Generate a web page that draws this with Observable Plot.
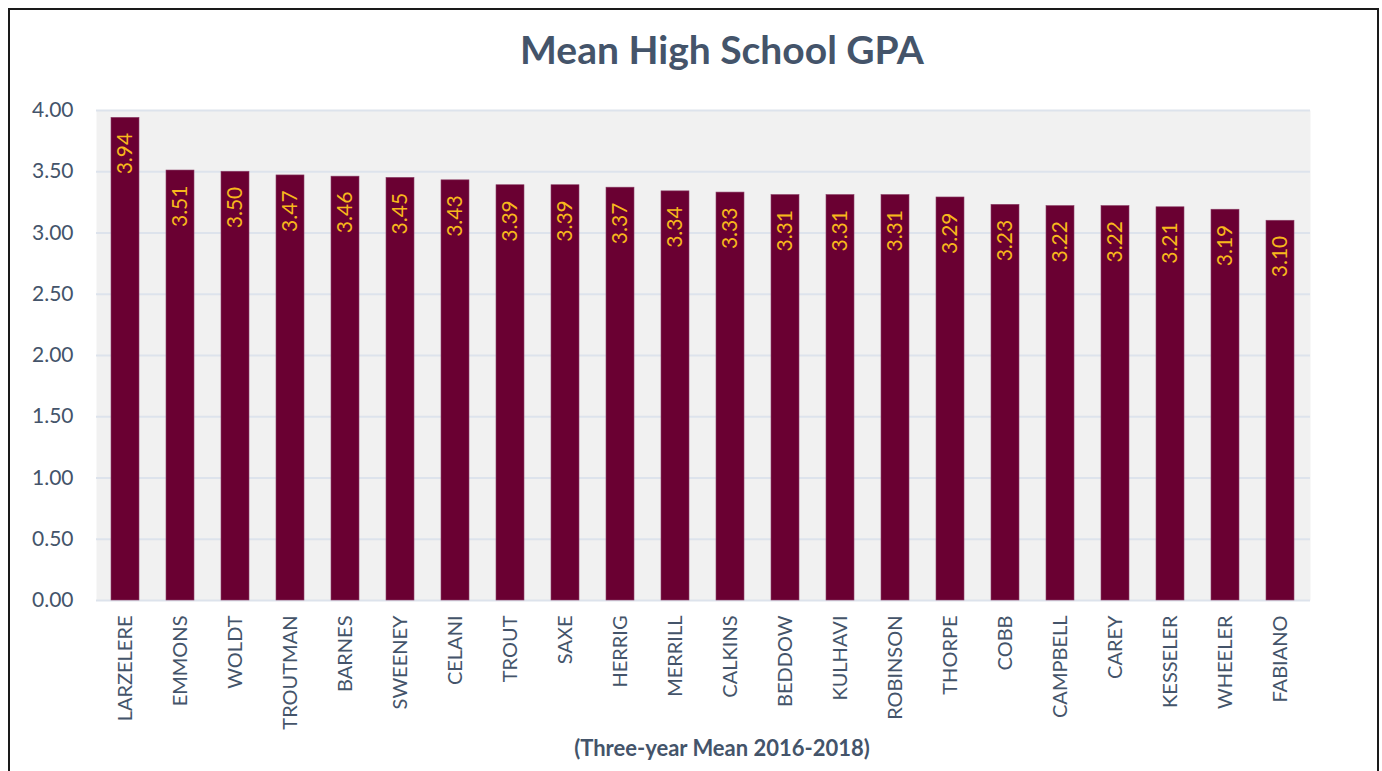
<!DOCTYPE html>
<html>
<head>
<meta charset="utf-8">
<script src="https://cdn.jsdelivr.net/npm/d3@7"></script>
<script src="https://cdn.jsdelivr.net/npm/@observablehq/plot@0.6"></script>
<style>
  html, body { margin: 0; padding: 0; background: #fff; width: 1382px; height: 771px; overflow: hidden; }
  #wrap { position: relative; width: 1382px; height: 771px; font-family: Lato, "Open Sans", sans-serif; }
  #border { position: absolute; left: 8px; top: 8px; width: 1371px; height: 800px; border: 2px solid #1a1a1a; box-sizing: border-box; }
  #title { position: absolute; left: 0; width: 1444px; top: 26px; text-align: center; font-size: 39px; font-weight: bold; color: #44546a; }
  #caption { position: absolute; left: 0; width: 1444px; top: 734px; text-align: center; font-size: 22px; font-weight: bold; color: #44546a; }
  #chart { position: absolute; left: 0; top: 0; }
</style>
</head>
<body>
<div id="wrap">
  <div id="border"></div>
  <div id="chart"></div>
  <div id="title">Mean High School GPA</div>
  <div id="caption">(Three-year Mean 2016-2018)</div>
</div>
<script>
const names = ["LARZELERE","EMMONS","WOLDT","TROUTMAN","BARNES","SWEENEY","CELANI","TROUT","SAXE","HERRIG","MERRILL","CALKINS","BEDDOW","KULHAVI","ROBINSON","THORPE","COBB","CAMPBELL","CAREY","KESSELER","WHEELER","FABIANO"];
const gpa = [3.94,3.51,3.50,3.47,3.46,3.45,3.43,3.39,3.39,3.37,3.34,3.33,3.31,3.31,3.31,3.29,3.23,3.22,3.22,3.21,3.19,3.10];
const yTicks = [0,0.5,1,1.5,2,2.5,3,3.5,4];

const data = names.map((n, i) => ({name: n, gpa: gpa[i]}));
const fmt = d3.format(".2f");

const chart = Plot.plot({
  width: 1382,
  height: 771,
  marginLeft: 96,
  marginRight: 72,
  marginTop: 110,
  marginBottom: 171,
  style: {fontFamily: "Lato, 'Open Sans', sans-serif", background: "transparent"},
  x: {domain: names, paddingInner: 0.483, paddingOuter: 0.254, label: null},
  y: {domain: [0, 4], label: null},
  marks: [
    Plot.frame({fill: "#f1f1f1", stroke: null}),
    Plot.ruleY(yTicks, {stroke: "#dde3ec", strokeWidth: 2}),
    Plot.barY(data, {x: "name", y: "gpa", fill: "#6a0032", stroke: "#8c4068", strokeWidth: 0.6}),
    Plot.text(data, {x: "name", y: "gpa", text: d => fmt(d.gpa), rotate: -90, textAnchor: "end", dy: 15, fill: "#f7b81c", fontSize: 21}),
    Plot.axisY({ticks: yTicks, tickFormat: fmt, tickSize: 0, tickPadding: 23, fontSize: 21, fill: "#44546a", label: null}),
    Plot.axisX({tickRotate: -90, tickSize: 0, tickPadding: 15, fontSize: 20, fill: "#44546a", label: null})
  ]
});
document.getElementById("chart").appendChild(chart);
</script>
</body>
</html>
